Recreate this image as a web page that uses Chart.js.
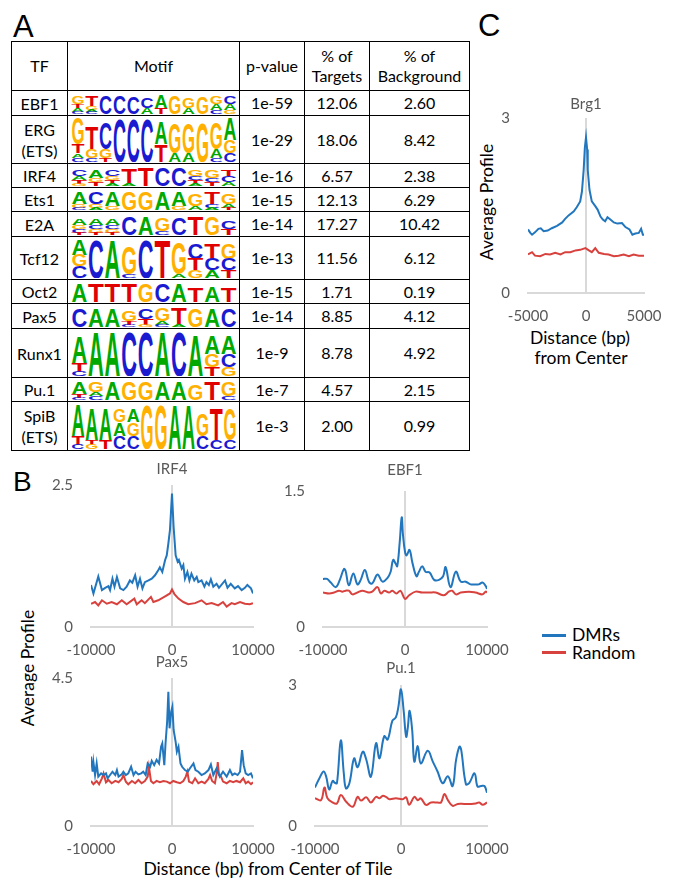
<!DOCTYPE html>
<html><head><meta charset="utf-8">
<script src="https://cdn.jsdelivr.net/npm/chart.js@4.4.1/dist/chart.umd.min.js"></script>
<style>
html,body{margin:0;padding:0;background:#fff;overflow:hidden;}
#page{position:relative;width:673px;height:880px;overflow:hidden;background:#fff;font-family:Lato,'Liberation Sans',sans-serif;color:#000;}
.plabel{position:absolute;font-family:'Liberation Sans',Arial,sans-serif;line-height:1;color:#000;}
canvas{position:absolute;}
#tbl{position:absolute;left:11px;top:41px;border-collapse:collapse;table-layout:fixed;font-family:Lato,sans-serif;font-size:16px;line-height:20px;color:#000;}
#tbl td{border:1.5px solid #000;text-align:center;vertical-align:middle;padding:0;overflow:hidden;}
#tbl svg{display:block;margin:0 auto;}
.rot{position:absolute;transform:translate(-50%,-50%) rotate(-90deg);white-space:nowrap;font-size:17.5px;line-height:1;}
.ctr{position:absolute;transform:translate(-50%,-50%);white-space:nowrap;font-size:17.5px;line-height:1;}
.lg{position:absolute;height:3px;width:24px;}
</style></head><body><div id="page">
<div class="plabel" style="left:13px;top:11px;font-size:31px;">A</div>
<div class="plabel" style="left:13px;top:468px;font-size:28px;">B</div>
<div class="plabel" style="left:478px;top:10px;font-size:31px;">C</div>
<table id="tbl"></table>
<div class="rot" style="left:28px;top:668px;">Average Profile</div>
<div class="ctr" style="left:268px;top:869px;">Distance (bp) from Center of Tile</div>
<div class="rot" style="left:487px;top:202px;">Average Profile</div>
<div class="ctr" style="left:580px;top:338px;">Distance (bp)</div>
<div class="ctr" style="left:581px;top:358px;">from Center</div>
<div class="lg" style="left:542px;top:634px;background:#2176bd;"></div>
<div class="lg" style="left:542px;top:651px;background:#d8423e;"></div>
<div class="ctr" style="left:572px;top:635px;transform:translate(0,-50%);">DMRs</div>
<div class="ctr" style="left:572px;top:653px;transform:translate(0,-50%);">Random</div>
</div>
<script>
// ---------- Table data (panel A) ----------
const tfNames = ["EBF1","ERG\n(ETS)","IRF4","Ets1","E2A","Tcf12","Oct2","Pax5","Runx1","Pu.1","SpiB\n(ETS)"];
const pValues = ["1e-59","1e-29","1e-16","1e-15","1e-14","1e-13","1e-15","1e-14","1e-9","1e-7","1e-3"];
const pctTargets = ["12.06","18.06","6.57","12.13","17.27","11.56","1.71","8.85","8.78","4.57","2.00"];
const pctBackground = ["2.60","8.42","2.38","6.29","10.42","6.12","0.19","4.12","4.92","2.15","0.99"];
const headers = ["TF","Motif","p-value","% of\nTargets","% of\nBackground"];
const motifs = [
  ["G4T2A2C1","T5G2A1C1","C9","C9","C8","C5A3","A6T3","G9","G5A3","G8","G4A3C2","C4A3G2"],
  ["G6T2A1C1","T5G2C1","C6G2T1","C10","C10","C10","A5T4","G7A2","G7A2","G9","G6A2C1","A5G3C2"],
  ["C3A2T2G1","A4G2T2","C3G2T2A1","T8A1","T9","C9","C9","G3C2T2A1","G4C2T2","T3C3A2"],
  ["A6G2C1","C6G2A1","A7G2","G9","G9","A9","A7G2","G6A2","T6C2A1","G5A2T1"],
  ["A3G2C2T1","A3C2G2T1","A3C2G2T1","C9","A9","G6C2","C8","T9","G9","C4T3"],
  ["A4G3C3","C10","A10","G7C1","C10","T10","G8A1","C4T3G2","T4C3A2","G4C3T2"],
  ["A9","T9","T9","T9","G9","C9","A9","T7","A8","T7"],
  ["C9","A9","A9","G5T2C1","C5T3G1","G6A2C1","T8A1","G9","A9","C9"],
  ["A6T2C1","A10","A10","C10","C10","A10","C10","A9","A4G3T2","A4C3G2"],
  ["A6T2C1","G5A2C2","A9","G9","G9","A9","A9","G8","T9","G7C2"],
  ["A7T2C1","A7T1G1","A7T2","G3A3C3","A3G3C3","G10","G10","A10","A10","G5C3","T7C2","G7C2"]
];
const headerH = 49;
const rowH = [25,48,24,24,25,43,24,25,49,24,49];
const colW = [56,172,65,65,100];
const baseColors = {A:"#00a800",C:"#1a1ad0",G:"#ffb000",T:"#e00000"};

// ---------- Panel B: IRF4 ----------
const irf4DmrX = [-10000,-9700,-9100,-8650,-8250,-7850,-7650,-7350,-7100,-6800,-6400,-6000,-5600,-5200,-4900,-4550,-4250,-3950,-3650,-3350,-2900,-2500,-2100,-1700,-1500,-1200,-850,-650,-450,-250,0,200,450,700,850,1200,1400,1600,1900,2150,2400,2750,3050,3250,3650,4000,4250,4550,4800,5100,5500,5800,6550,6850,7250,7750,8150,8600,9000,9300,9750,10000];
const irf4DmrY = [0.74,0.59,0.89,0.65,0.69,0.72,0.65,0.85,0.71,0.88,0.68,0.65,0.71,0.82,0.78,0.91,0.71,0.85,0.68,0.79,0.82,0.85,0.91,1.00,1.05,0.97,1.18,1.26,1.47,1.71,2.35,1.76,1.26,1.15,1.18,1.03,1.09,0.85,0.97,0.82,0.94,0.82,0.88,0.79,0.82,0.71,0.79,0.74,0.84,0.71,0.76,0.69,0.82,0.69,0.76,0.68,0.72,0.65,0.69,0.74,0.68,0.59];
const irf4RandX = [-10000,-9500,-9100,-8650,-8050,-7450,-6800,-6200,-5600,-4650,-4350,-3750,-3350,-2600,-2300,-1700,-850,-250,0,300,800,1400,2000,2850,3650,4250,4900,5700,6300,6750,7350,7750,8400,9000,9600,10000];
const irf4RandY = [0.41,0.44,0.38,0.47,0.41,0.44,0.40,0.47,0.40,0.50,0.40,0.47,0.42,0.53,0.44,0.47,0.54,0.59,0.66,0.58,0.50,0.44,0.40,0.42,0.47,0.40,0.42,0.38,0.44,0.36,0.42,0.40,0.44,0.41,0.40,0.42];

// ---------- Panel B: EBF1 ----------
const ebf1DmrX = [-10000,-9500,-9050,-8450,-7950,-7450,-7250,-6850,-6300,-5800,-5400,-4900,-4400,-4000,-3350,-2750,-2150,-1750,-1450,-1150,-950,-650,-400,-250,0,200,550,900,1400,1700,2100,2500,3000,3550,4150,4650,4950,5550,6200,6800,7400,8000,8600,9000,9450,9850,10000];
const ebf1DmrY = [0.53,0.53,0.49,0.44,0.52,0.64,0.62,0.46,0.59,0.47,0.52,0.63,0.50,0.48,0.58,0.50,0.54,0.61,0.74,0.70,0.67,0.93,1.21,1.02,0.83,0.79,0.85,0.71,0.56,0.61,0.67,0.61,0.60,0.52,0.52,0.56,0.66,0.44,0.61,0.50,0.50,0.47,0.47,0.47,0.49,0.45,0.42];
const ebf1RandX = [-10000,-9250,-8650,-8050,-7650,-7250,-6850,-6400,-5800,-5200,-4400,-4000,-3350,-2950,-2500,-1950,-1550,-1050,-550,0,500,1300,2100,2950,3750,4750,5350,5750,6200,6800,7800,8600,9450,9850,10000];
const ebf1RandY = [0.38,0.37,0.38,0.40,0.39,0.40,0.40,0.36,0.38,0.40,0.38,0.39,0.44,0.37,0.40,0.38,0.40,0.37,0.40,0.31,0.35,0.39,0.38,0.38,0.38,0.35,0.39,0.40,0.36,0.38,0.39,0.38,0.36,0.39,0.38];

// ---------- Panel B: Pax5 ----------
const pax5DmrX = [-10000,-9800,-9700,-9500,-9300,-9100,-8750,-8450,-8150,-7950,-7650,-7350,-7000,-6800,-6600,-6200,-6000,-5700,-5400,-5050,-4750,-4500,-4150,-3800,-3550,-3250,-3000,-2700,-2500,-2200,-1900,-1600,-1350,-1200,-950,-800,-600,-450,-300,-100,50,200,450,600,800,1050,1250,1600,1950,2200,2650,2900,3250,3650,4050,4500,4800,5100,5500,5900,6300,6750,7150,7450,7750,8100,8400,8650,8850,9100,9400,9750,10000];
const pax5DmrY = [2.11,1.65,1.94,1.55,1.90,1.50,1.60,1.55,1.60,1.45,1.55,1.65,1.55,1.70,1.50,1.57,1.65,1.55,1.60,1.80,1.55,1.65,1.57,1.60,1.65,1.55,1.90,1.80,1.98,1.85,2.01,1.90,2.41,2.51,1.85,2.51,3.17,4.08,2.97,3.48,3.63,2.92,2.56,2.26,2.41,1.90,1.80,1.70,1.65,1.75,1.90,1.70,1.65,1.55,1.60,1.70,1.87,1.55,1.75,1.50,1.65,1.50,1.70,1.55,1.60,1.55,1.65,2.31,1.85,1.60,1.55,1.60,1.45];
const pax5RandX = [-10000,-9700,-9300,-9000,-8650,-8450,-8150,-7850,-7450,-7000,-6600,-6200,-6000,-5700,-5400,-4950,-4550,-4150,-3750,-3350,-3000,-2850,-2600,-2300,-1900,-1500,-1050,-650,-250,150,600,1000,1400,1700,1900,2100,2500,2850,3250,3650,4050,4500,4700,4950,5300,5550,5650,5800,6050,6300,6750,7150,7550,7950,8400,8800,9100,9400,9750,10000];
const pax5RandY = [1.37,1.27,1.37,1.27,1.45,1.60,1.33,1.40,1.30,1.37,1.33,1.43,1.55,1.35,1.27,1.37,1.30,1.40,1.30,1.37,1.50,1.80,1.37,1.30,1.37,1.33,1.37,1.35,1.30,1.37,1.33,1.30,1.37,1.50,1.65,1.35,1.30,1.45,1.30,1.35,1.30,1.43,1.55,1.37,1.30,1.65,1.94,1.55,1.50,1.35,1.30,1.37,1.33,1.37,1.33,1.45,1.30,1.35,1.27,1.33];

// ---------- Panel B: Pu.1 ----------
const pu1DmrX = [-10000,-9500,-9000,-8700,-8350,-7950,-7700,-7450,-7000,-6650,-6400,-6000,-5450,-5050,-4450,-4050,-3500,-2900,-2500,-1950,-1550,-1000,-600,-300,0,300,600,800,1000,1300,1550,1950,2300,3100,3700,4250,4850,5450,6000,6400,6800,7000,7550,7950,8550,8900,9300,9700,10000];
const pu1DmrY = [0.82,1.01,1.16,1.05,0.78,0.96,0.92,0.91,1.82,1.12,0.80,0.91,1.44,1.25,1.58,1.42,1.05,1.76,1.44,1.91,1.84,2.24,2.31,2.54,2.91,2.47,1.90,2.11,2.45,2.04,1.37,1.70,1.33,1.60,1.37,1.16,0.91,1.06,0.85,1.40,1.69,1.62,0.89,0.92,1.12,0.84,0.85,0.85,0.71];
const pu1RandX = [-10000,-9300,-8900,-8550,-7950,-7450,-7000,-6400,-5600,-5050,-4650,-4050,-3500,-2900,-2500,-2150,-1750,-1350,-600,200,600,950,1550,1950,2300,2900,3500,4250,4650,5050,5450,6000,6600,7350,8150,8700,9100,9500,10000];
const pu1RandY = [0.59,0.55,0.82,0.59,0.50,0.48,0.66,0.52,0.41,0.62,0.54,0.61,0.50,0.62,0.59,0.64,0.62,0.57,0.59,0.57,0.61,0.45,0.62,0.55,0.59,0.45,0.50,0.50,0.50,0.68,0.55,0.43,0.47,0.47,0.47,0.48,0.50,0.45,0.50];

// ---------- Panel C: Brg1 ----------
const brg1DmrX = [-5000,-4800,-4650,-4400,-4100,-3900,-3650,-3300,-2950,-2500,-2050,-1800,-1500,-1050,-800,-500,-350,-200,-100,0,100,150,300,500,800,1000,1250,1450,1650,1850,2100,2400,2700,3100,3400,3750,4000,4250,4550,4750,4900,5000];
const brg1DmrY = [1.09,1.03,1.00,1.04,1.10,1.11,1.06,1.07,1.11,1.15,1.21,1.27,1.33,1.40,1.47,1.57,1.74,2.11,2.49,2.67,2.46,2.11,1.77,1.57,1.49,1.43,1.31,1.26,1.23,1.30,1.26,1.21,1.19,1.20,1.13,1.09,1.00,1.02,1.03,1.10,1.00,1.00];
const brg1RandX = [-5000,-4650,-4400,-3950,-3500,-3100,-2650,-2200,-1800,-1350,-900,-500,-50,250,500,800,1100,1550,1950,2400,2800,3250,3700,4100,4550,5000];
const brg1RandY = [0.66,0.70,0.64,0.63,0.67,0.66,0.69,0.66,0.70,0.70,0.73,0.74,0.77,0.73,0.70,0.77,0.69,0.67,0.66,0.63,0.64,0.66,0.63,0.66,0.64,0.64];

const seriesNames = ["DMRs","Random"];
const seriesColors = ["#2176bd","#d8423e"];

// ---------- Build table ----------
function logoSVG(cols, W, H){
  const cw = W/cols.length;
  let s = `<svg width="${W}" height="${H}" viewBox="0 0 ${W} ${H}" xmlns="http://www.w3.org/2000/svg">`;
  cols.forEach((c,i)=>{
    const parts = [...c.matchAll(/([ACGT])(\d+)/g)].map(m=>[m[1], +m[2]]);
    const tot = parts.reduce((a,p)=>a+p[1],0);
    let y = H - tot/10*H;
    parts.forEach(([L,w])=>{
      const h = w/10*H; y += h;
      const fs = h/0.716;
      s += `<text x="${(i*cw+0.4).toFixed(2)}" y="${y.toFixed(2)}" font-family="Liberation Sans, Arial, sans-serif" font-weight="bold" font-size="${fs.toFixed(2)}" textLength="${(cw-0.8).toFixed(2)}" lengthAdjust="spacingAndGlyphs" fill="${baseColors[L]}">${L}</text>`;
    });
  });
  return s + "</svg>";
}
(function(){
  const t = document.getElementById('tbl');
  let h = '<colgroup>' + colW.map(w=>`<col style="width:${w}px">`).join('') + '</colgroup>';
  h += `<tr style="height:${headerH}px">` + headers.map(x=>`<td>${x.replace('\n','<br>')}</td>`).join('') + '</tr>';
  tfNames.forEach((n,i)=>{
    h += `<tr style="height:${rowH[i]}px">`;
    h += `<td style="line-height:21px">${n.replace('\n','<br>')}</td>`;
    h += `<td>${logoSVG(motifs[i], colW[1]-6, rowH[i]-4)}</td>`;
    h += `<td>${pValues[i]}</td><td>${pctTargets[i]}</td><td>${pctBackground[i]}</td></tr>`;
  });
  t.innerHTML = h;
})();

// ---------- Charts ----------
const page = document.getElementById('page');
function lineChart(spec){
  const {L,T,R,B,titleY,title,yMax,xMin,xMax,xStep,series,tension,lw} = spec;
  const M = 60, top = titleY - 13;
  const cv = document.createElement('canvas');
  const w = (R-L) + 2*M, h = (B-top) + 40;
  cv.width = w; cv.height = h;
  cv.style.left = (L-M)+'px'; cv.style.top = top+'px';
  cv.style.width = w+'px'; cv.style.height = h+'px';
  page.appendChild(cv);
  new Chart(cv, {
    type:'line',
    data:{datasets: series.map((s,k)=>({
      label: seriesNames[k],
      data: s.x.map((x,i)=>({x:x, y:s.y[i]})),
      borderColor: seriesColors[k], borderWidth: lw, pointRadius: 0, tension: tension, fill:false
    }))},
    options:{
      responsive:false, animation:false, devicePixelRatio:1,
      layout:{padding:0},
      plugins:{
        legend:{display:false}, tooltip:{enabled:false},
        title:{display:true, text:title, color:'#595959',
          font:{family:'Lato',size:15,weight:'normal',lineHeight:1.2},
          padding:{top:4,bottom:T-titleY-9}}
      },
      scales:{
        x:{type:'linear', min:xMin, max:xMax,
          afterFit(s){ s.height = 40; s.paddingLeft = 0; s.paddingRight = 0; },
          ticks:{stepSize:xStep, color:'#595959', font:{family:'Lato',size:15}, padding:14, maxRotation:0, autoSkip:false, callback:v=>String(v)},
          grid:{drawTicks:false, lineWidth:2, color:c=>(c.tick && c.tick.value===0)?'#d9d9d9':'rgba(0,0,0,0)'},
          border:{display:true, color:'#d9d9d9', width:2}},
        y:{min:0, max:yMax,
          afterFit(s){ s.width = M; s.paddingTop = 0; s.paddingBottom = 0; },
          ticks:{stepSize:yMax, color:'#595959', font:{family:'Lato',size:15}, padding:18, callback:v=>String(v)},
          grid:{display:false, drawTicks:false}, border:{display:false}},
        yPad:{axis:'y', position:'right', min:0, max:1, display:true,
          afterFit(s){ s.width = M; s.paddingTop = 0; s.paddingBottom = 0; },
          ticks:{display:false}, grid:{display:false, drawTicks:false}, border:{display:false}}
      }
    }
  });
}
function draw(){
  lineChart({L:91,R:253,T:485,B:627,titleY:469,title:'IRF4',yMax:2.5,xMin:-10000,xMax:10000,xStep:10000,tension:0,lw:2,
    series:[{x:irf4DmrX,y:irf4DmrY},{x:irf4RandX,y:irf4RandY}]});
  lineChart({L:323,R:487,T:491,B:627,titleY:470,title:'EBF1',yMax:1.5,xMin:-10000,xMax:10000,xStep:10000,tension:0.4,lw:2,
    series:[{x:ebf1DmrX,y:ebf1DmrY},{x:ebf1RandX,y:ebf1RandY}]});
  lineChart({L:91,R:253,T:678,B:826,titleY:662,title:'Pax5',yMax:4.5,xMin:-10000,xMax:10000,xStep:10000,tension:0,lw:2,
    series:[{x:pax5DmrX,y:pax5DmrY},{x:pax5RandX,y:pax5RandY}]});
  lineChart({L:315,R:487,T:685,B:826,titleY:668,title:'Pu.1',yMax:3,xMin:-10000,xMax:10000,xStep:10000,tension:0.4,lw:2,
    series:[{x:pu1DmrX,y:pu1DmrY},{x:pu1RandX,y:pu1RandY}]});
  lineChart({L:528,R:644,T:118,B:293,titleY:104,title:'Brg1',yMax:3,xMin:-5000,xMax:5000,xStep:5000,tension:0,lw:2,
    series:[{x:brg1DmrX,y:brg1DmrY},{x:brg1RandX,y:brg1RandY}]});
}
if (document.fonts && document.fonts.ready) { document.fonts.ready.then(draw); } else { draw(); }
</script>
</body></html>
